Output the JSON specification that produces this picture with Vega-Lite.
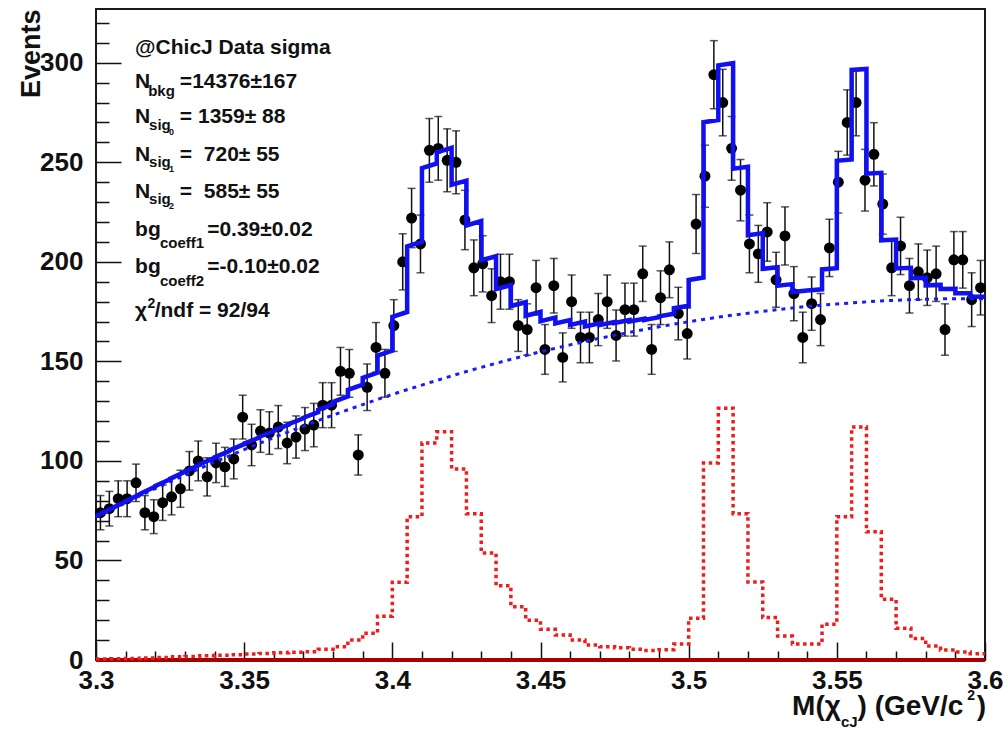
{
  "$schema": "https://vega.github.io/schema/vega-lite/v6.json",
  "width": 889,
  "height": 651,
  "autosize": {"type": "none"},
  "padding": {"left": 96, "top": 9, "right": 23, "bottom": 74},
  "background": "white",
  "config": {
    "view": {"stroke": "#1a1a1a", "strokeWidth": 2},
    "font": "Liberation Sans",
    "axis": {"grid": false, "domain": false, "tickColor": "#111", "labelColor": "#111", "labelFont": "Liberation Sans", "labelFontWeight": "bold", "labelFontSize": 26, "titleFont": "Liberation Sans", "titleColor": "#111"}
  },
  "resolve": {"axis": {"x": "independent", "y": "independent"}},
  "datasets": {
    "pts": [
      {"m":3.3015,"n":74,"e":8.6},{"m":3.3045,"n":76,"e":8.7},{"m":3.3075,"n":81,"e":9.0},{"m":3.3105,"n":81,"e":9.0},{"m":3.3135,"n":89,"e":9.4},
      {"m":3.3165,"n":74,"e":8.6},{"m":3.3195,"n":72,"e":8.5},{"m":3.3225,"n":79,"e":8.9},{"m":3.3255,"n":82,"e":9.1},{"m":3.3285,"n":86,"e":9.3},
      {"m":3.3315,"n":95,"e":9.7},{"m":3.3345,"n":100,"e":10.0},{"m":3.3375,"n":92,"e":9.6},{"m":3.3405,"n":99,"e":9.9},{"m":3.3435,"n":97,"e":9.8},
      {"m":3.3465,"n":101,"e":10.0},{"m":3.3495,"n":122,"e":11.0},{"m":3.3525,"n":108,"e":10.4},{"m":3.3555,"n":115,"e":10.7},{"m":3.3585,"n":114,"e":10.7},
      {"m":3.3615,"n":117,"e":10.8},{"m":3.3645,"n":109,"e":10.4},{"m":3.3675,"n":112,"e":10.6},{"m":3.3705,"n":116,"e":10.8},{"m":3.3735,"n":118,"e":10.9},
      {"m":3.3765,"n":128,"e":11.3},{"m":3.3795,"n":128,"e":11.3},{"m":3.3825,"n":145,"e":12.0},{"m":3.3855,"n":144,"e":12.0},{"m":3.3885,"n":103,"e":10.1},
      {"m":3.3915,"n":137,"e":11.7},{"m":3.3945,"n":157,"e":12.5},{"m":3.3975,"n":144,"e":12.0},{"m":3.4005,"n":168,"e":13.0},{"m":3.4035,"n":200,"e":14.1},
      {"m":3.4065,"n":222,"e":14.9},{"m":3.4095,"n":209,"e":14.5},{"m":3.4125,"n":256,"e":16.0},{"m":3.4155,"n":257,"e":16.0},{"m":3.4185,"n":251,"e":15.8},
      {"m":3.4215,"n":250,"e":15.8},{"m":3.4245,"n":221,"e":14.9},{"m":3.4275,"n":197,"e":14.0},{"m":3.4305,"n":199,"e":14.1},{"m":3.4335,"n":183,"e":13.5},
      {"m":3.4365,"n":190,"e":13.8},{"m":3.4395,"n":190,"e":13.8},{"m":3.4425,"n":168,"e":13.0},{"m":3.4455,"n":166,"e":12.9},{"m":3.4485,"n":187,"e":13.7},
      {"m":3.4515,"n":156,"e":12.5},{"m":3.4545,"n":188,"e":13.7},{"m":3.4575,"n":152,"e":12.3},{"m":3.4605,"n":180,"e":13.4},{"m":3.4635,"n":162,"e":12.7},
      {"m":3.4665,"n":162,"e":12.7},{"m":3.4695,"n":171,"e":13.1},{"m":3.4725,"n":180,"e":13.4},{"m":3.4755,"n":163,"e":12.8},{"m":3.4785,"n":176,"e":13.3},
      {"m":3.4815,"n":176,"e":13.3},{"m":3.4845,"n":194,"e":13.9},{"m":3.4875,"n":156,"e":12.5},{"m":3.4905,"n":182,"e":13.5},{"m":3.4935,"n":196,"e":14.0},
      {"m":3.4965,"n":174,"e":13.2},{"m":3.4995,"n":164,"e":12.8},{"m":3.5025,"n":219,"e":14.8},{"m":3.5055,"n":243,"e":15.6},{"m":3.5085,"n":294,"e":17.1},
      {"m":3.5115,"n":280,"e":16.7},{"m":3.5145,"n":257,"e":16.0},{"m":3.5175,"n":236,"e":15.4},{"m":3.5205,"n":209,"e":14.5},{"m":3.5235,"n":204,"e":14.3},
      {"m":3.5265,"n":215,"e":14.7},{"m":3.5295,"n":191,"e":13.8},{"m":3.5325,"n":213,"e":14.6},{"m":3.5355,"n":184,"e":13.6},{"m":3.5385,"n":162,"e":12.7},
      {"m":3.5415,"n":179,"e":13.4},{"m":3.5445,"n":171,"e":13.1},{"m":3.5475,"n":207,"e":14.4},{"m":3.5505,"n":240,"e":15.5},{"m":3.5535,"n":270,"e":16.4},
      {"m":3.5565,"n":280,"e":16.7},{"m":3.5595,"n":241,"e":15.5},{"m":3.5625,"n":254,"e":15.9},{"m":3.5655,"n":229,"e":15.1},{"m":3.5685,"n":197,"e":14.0},
      {"m":3.5715,"n":208,"e":14.4},{"m":3.5745,"n":188,"e":13.7},{"m":3.5775,"n":195,"e":14.0},{"m":3.5805,"n":192,"e":13.9},{"m":3.5835,"n":194,"e":13.9},
      {"m":3.5865,"n":166,"e":12.9},{"m":3.5895,"n":201,"e":14.2},{"m":3.5925,"n":201,"e":14.2},{"m":3.5955,"n":181,"e":13.5},{"m":3.5985,"n":187,"e":13.7}
    ],
    "curve": [
      {"o":0,"m":3.300,"s":0.5,"t":72.3},{"o":1,"m":3.305,"s":0.5,"t":75.9},
      {"o":2,"m":3.305,"s":0.6,"t":76.0},{"o":3,"m":3.310,"s":0.6,"t":79.6},
      {"o":4,"m":3.310,"s":0.8,"t":79.8},{"o":5,"m":3.315,"s":0.8,"t":83.4},
      {"o":6,"m":3.315,"s":1.0,"t":83.6},{"o":7,"m":3.320,"s":1.0,"t":87.1},
      {"o":8,"m":3.320,"s":1.3,"t":87.4},{"o":9,"m":3.325,"s":1.3,"t":90.8},
      {"o":10,"m":3.325,"s":1.6,"t":91.1},{"o":11,"m":3.330,"s":1.6,"t":94.5},
      {"o":12,"m":3.330,"s":1.8,"t":94.7},{"o":13,"m":3.335,"s":1.8,"t":98.0},
      {"o":14,"m":3.335,"s":2.1,"t":98.3},{"o":15,"m":3.340,"s":2.1,"t":101.5},
      {"o":16,"m":3.340,"s":2.4,"t":101.8},{"o":17,"m":3.345,"s":2.4,"t":105.0},
      {"o":18,"m":3.345,"s":2.7,"t":105.3},{"o":19,"m":3.350,"s":2.7,"t":108.4},
      {"o":20,"m":3.350,"s":3.0,"t":108.7},{"o":21,"m":3.355,"s":3.0,"t":111.7},
      {"o":22,"m":3.355,"s":3.3,"t":112.0},{"o":23,"m":3.360,"s":3.3,"t":115.0},
      {"o":24,"m":3.360,"s":3.6,"t":115.3},{"o":25,"m":3.365,"s":3.6,"t":118.2},
      {"o":26,"m":3.365,"s":3.9,"t":118.5},{"o":27,"m":3.370,"s":3.9,"t":121.4},
      {"o":28,"m":3.370,"s":4.2,"t":121.7},{"o":29,"m":3.375,"s":4.2,"t":124.5},
      {"o":30,"m":3.375,"s":5.4,"t":125.7},{"o":31,"m":3.380,"s":5.4,"t":128.4},
      {"o":32,"m":3.380,"s":6.7,"t":129.7},{"o":33,"m":3.385,"s":6.7,"t":132.4},
      {"o":34,"m":3.385,"s":10,"t":135.7},{"o":35,"m":3.390,"s":10,"t":138.3},
      {"o":36,"m":3.390,"s":13.4,"t":141.7},{"o":37,"m":3.395,"s":13.4,"t":144.3},
      {"o":38,"m":3.395,"s":22,"t":152.9},{"o":39,"m":3.400,"s":22,"t":155.4},
      {"o":40,"m":3.400,"s":39,"t":172.4},{"o":41,"m":3.405,"s":39,"t":174.8},
      {"o":42,"m":3.405,"s":72,"t":207.8},{"o":43,"m":3.410,"s":72,"t":210.1},
      {"o":44,"m":3.410,"s":109,"t":247.1},{"o":45,"m":3.415,"s":109,"t":249.4},
      {"o":46,"m":3.415,"s":114.6,"t":255.0},{"o":47,"m":3.420,"s":114.6,"t":257.3},
      {"o":48,"m":3.420,"s":96,"t":238.7},{"o":49,"m":3.425,"s":96,"t":240.8},
      {"o":50,"m":3.425,"s":73.5,"t":218.3},{"o":51,"m":3.430,"s":73.5,"t":220.5},
      {"o":52,"m":3.430,"s":53.8,"t":200.8},{"o":53,"m":3.435,"s":53.8,"t":202.8},
      {"o":54,"m":3.435,"s":37.3,"t":186.3},{"o":55,"m":3.440,"s":37.3,"t":188.3},
      {"o":56,"m":3.440,"s":26.8,"t":177.8},{"o":57,"m":3.445,"s":26.8,"t":179.7},
      {"o":58,"m":3.445,"s":20,"t":172.9},{"o":59,"m":3.450,"s":20,"t":174.8},
      {"o":60,"m":3.450,"s":15.4,"t":170.2},{"o":61,"m":3.455,"s":15.4,"t":172.0},
      {"o":62,"m":3.455,"s":12.5,"t":169.1},{"o":63,"m":3.460,"s":12.5,"t":170.8},
      {"o":64,"m":3.460,"s":10,"t":168.3},{"o":65,"m":3.465,"s":10,"t":170.0},
      {"o":66,"m":3.465,"s":7.5,"t":167.5},{"o":67,"m":3.470,"s":7.5,"t":169.1},
      {"o":68,"m":3.470,"s":6.7,"t":168.3},{"o":69,"m":3.475,"s":6.7,"t":169.8},
      {"o":70,"m":3.475,"s":6.2,"t":169.3},{"o":71,"m":3.480,"s":6.2,"t":170.8},
      {"o":72,"m":3.480,"s":5.4,"t":170.0},{"o":73,"m":3.485,"s":5.4,"t":171.4},
      {"o":74,"m":3.485,"s":4.8,"t":170.8},{"o":75,"m":3.490,"s":4.8,"t":172.2},
      {"o":76,"m":3.490,"s":5.2,"t":172.6},{"o":77,"m":3.495,"s":5.2,"t":173.9},
      {"o":78,"m":3.495,"s":8,"t":176.7},{"o":79,"m":3.500,"s":8,"t":177.9},
      {"o":80,"m":3.500,"s":21,"t":190.9},{"o":81,"m":3.505,"s":21,"t":192.1},
      {"o":82,"m":3.505,"s":99,"t":270.1},{"o":83,"m":3.510,"s":99,"t":271.2},
      {"o":84,"m":3.510,"s":126.5,"t":298.7},{"o":85,"m":3.515,"s":126.5,"t":299.8},
      {"o":86,"m":3.515,"s":73.5,"t":246.8},{"o":87,"m":3.520,"s":73.5,"t":247.7},
      {"o":88,"m":3.520,"s":39.2,"t":213.4},{"o":89,"m":3.525,"s":39.2,"t":214.4},
      {"o":90,"m":3.525,"s":21.3,"t":196.5},{"o":91,"m":3.530,"s":21.3,"t":197.3},
      {"o":92,"m":3.530,"s":12,"t":188.0},{"o":93,"m":3.535,"s":12,"t":188.8},
      {"o":94,"m":3.535,"s":8,"t":184.8},{"o":95,"m":3.540,"s":8,"t":185.6},
      {"o":96,"m":3.540,"s":8,"t":185.6},{"o":97,"m":3.545,"s":8,"t":186.2},
      {"o":98,"m":3.545,"s":18,"t":196.2},{"o":99,"m":3.550,"s":18,"t":196.8},
      {"o":100,"m":3.550,"s":72,"t":250.8},{"o":101,"m":3.555,"s":72,"t":251.4},
      {"o":102,"m":3.555,"s":117,"t":296.4},{"o":103,"m":3.560,"s":117,"t":296.9},
      {"o":104,"m":3.560,"s":64.4,"t":244.3},{"o":105,"m":3.565,"s":64.4,"t":244.7},
      {"o":106,"m":3.565,"s":30.5,"t":210.8},{"o":107,"m":3.570,"s":30.5,"t":211.2},
      {"o":108,"m":3.570,"s":16,"t":196.7},{"o":109,"m":3.575,"s":16,"t":197.0},
      {"o":110,"m":3.575,"s":10.8,"t":191.8},{"o":111,"m":3.580,"s":10.8,"t":192.0},
      {"o":112,"m":3.580,"s":7,"t":188.2},{"o":113,"m":3.585,"s":7,"t":188.4},
      {"o":114,"m":3.585,"s":5,"t":186.4},{"o":115,"m":3.590,"s":5,"t":186.5},
      {"o":116,"m":3.590,"s":4,"t":184.2},{"o":117,"m":3.595,"s":4,"t":184.2},
      {"o":118,"m":3.595,"s":3.2,"t":182.6},{"o":119,"m":3.600,"s":3.2,"t":182.5}
    ],
    "bg": [
      {"m":3.30,"b":71.8},{"m":3.31,"b":79.0},{"m":3.32,"b":86.1},{"m":3.33,"b":92.9},{"m":3.34,"b":99.4},
      {"m":3.35,"b":105.7},{"m":3.36,"b":111.7},{"m":3.37,"b":117.5},{"m":3.38,"b":123.0},{"m":3.39,"b":128.3},
      {"m":3.40,"b":133.4},{"m":3.41,"b":138.1},{"m":3.42,"b":142.7},{"m":3.43,"b":147.0},{"m":3.44,"b":151.0},
      {"m":3.45,"b":154.8},{"m":3.46,"b":158.3},{"m":3.47,"b":161.6},{"m":3.48,"b":164.6},{"m":3.49,"b":167.4},
      {"m":3.50,"b":169.9},{"m":3.51,"b":172.2},{"m":3.52,"b":174.2},{"m":3.53,"b":176.0},{"m":3.54,"b":177.6},
      {"m":3.55,"b":178.8},{"m":3.56,"b":179.9},{"m":3.57,"b":180.7},{"m":3.58,"b":181.2},{"m":3.59,"b":181.5},
      {"m":3.60,"b":181.5}
    ],
    "t1": [
      {"x":3.3132,"y":304.6,"t":"@ChicJ Data sigma"},
      {"x":3.3132,"y":287.5,"t":"N"},
      {"x":3.3283,"y":287.5,"t":"=14376±167"},
      {"x":3.3132,"y":269.9,"t":"N"},
      {"x":3.3283,"y":269.9,"t":"=\u00a01359±\u00a088"},
      {"x":3.3132,"y":250.9,"t":"N"},
      {"x":3.3283,"y":250.9,"t":"=\u00a0\u00a0720±\u00a055"},
      {"x":3.3132,"y":232.3,"t":"N"},
      {"x":3.3283,"y":232.3,"t":"=\u00a0\u00a0585±\u00a055"},
      {"x":3.3132,"y":213.2,"t":"bg"},
      {"x":3.3375,"y":213.2,"t":"=0.39±0.02"},
      {"x":3.3132,"y":194.2,"t":"bg"},
      {"x":3.3375,"y":194.2,"t":"=-0.10±0.02"},
      {"x":3.3132,"y":172.1,"t":"χ"},
      {"x":3.3198,"y":172.1,"t":"/ndf = 92/94"}
    ],
    "sub": [
      {"x":3.3176,"y":283.5,"t":"bkg"},
      {"x":3.3179,"y":266.4,"t":"sig"},
      {"x":3.3179,"y":247.4,"t":"sig"},
      {"x":3.3179,"y":228.8,"t":"sig"},
      {"x":3.3216,"y":206.7,"t":"coeff1"},
      {"x":3.3216,"y":187.7,"t":"coeff2"},
      {"x":3.5514,"y":-33.6,"t":"cJ"}
    ],
    "subsub": [
      {"x":3.3246,"y":263.9,"t":"0"},
      {"x":3.3246,"y":244.9,"t":"1"},
      {"x":3.3246,"y":226.3,"t":"2"}
    ],
    "sup": [
      {"x":3.3174,"y":176.6,"t":"2"},
      {"x":3.5940,"y":-20.1,"t":"2"}
    ],
    "xt": [
      {"x":3.5349,"y":-27.6,"t":"M(χ"},
      {"x":3.5570,"y":-27.6,"t":") (GeV/c"},
      {"x":3.5972,"y":-27.6,"t":")"}
    ]
  },
  "layer": [
    {
      "data": {"name": "bg"},
      "mark": {"type": "rule", "color": "#a80000", "strokeWidth": 3},
      "encoding": {
        "y": {"datum": 0, "type": "quantitative", "scale": {"domain": [0, 327], "nice": false, "zero": false}, "axis": null}
      }
    },
    {
      "data": {"name": "pts"},
      "mark": {"type": "errorbar", "ticks": true, "color": "#111", "thickness": 1.5, "size": 8},
      "encoding": {
        "x": {"field": "m", "type": "quantitative", "scale": {"domain": [3.3, 3.6], "nice": false, "zero": false}, "axis": null},
        "y": {"field": "n", "type": "quantitative", "scale": {"domain": [0, 327], "nice": false, "zero": false}, "axis": null},
        "yError": {"field": "e"}
      }
    },
    {
      "data": {"name": "pts"},
      "mark": {"type": "circle", "size": 120, "color": "#000", "opacity": 1},
      "encoding": {
        "x": {"field": "m", "type": "quantitative", "scale": {"domain": [3.3, 3.6], "nice": false, "zero": false}, "axis": null},
        "y": {"field": "n", "type": "quantitative", "scale": {"domain": [0, 327], "nice": false, "zero": false}, "axis": null}
      }
    },
    {
      "data": {"name": "curve"},
      "mark": {"type": "line", "color": "#ee1c1c", "strokeWidth": 3.5, "strokeDash": [3.5, 3.5]},
      "encoding": {
        "x": {"field": "m", "type": "quantitative", "scale": {"domain": [3.3, 3.6], "nice": false, "zero": false},
              "axis": {"orient": "bottom", "values": [3.31,3.32,3.33,3.34,3.36,3.37,3.38,3.39,3.41,3.42,3.43,3.44,3.46,3.47,3.48,3.49,3.51,3.52,3.53,3.54,3.56,3.57,3.58,3.59], "tickSize": -9, "tickWidth": 1.5, "labels": false, "title": null}},
        "y": {"field": "s", "type": "quantitative", "scale": {"domain": [0, 327], "nice": false, "zero": false},
              "axis": {"orient": "left", "values": [10,20,30,40,60,70,80,90,110,120,130,140,160,170,180,190,210,220,230,240,260,270,280,290,310,320], "tickSize": -13, "tickWidth": 1.5, "labels": false, "title": null}},
        "order": {"field": "o", "type": "quantitative"}
      }
    },
    {
      "data": {"name": "bg"},
      "mark": {"type": "line", "color": "#1a1aff", "strokeWidth": 3, "strokeDash": [4, 5], "interpolate": "monotone"},
      "encoding": {
        "x": {"field": "m", "type": "quantitative", "scale": {"domain": [3.3, 3.6], "nice": false, "zero": false},
              "axis": {"orient": "bottom", "values": [3.3,3.35,3.4,3.45,3.5,3.55,3.6], "format": ".2~f", "tickSize": -18, "tickWidth": 1.5, "labelPadding": 25, "labelFlush": false, "labelOverlap": false, "title": null}},
        "y": {"field": "b", "type": "quantitative", "scale": {"domain": [0, 327], "nice": false, "zero": false},
              "axis": {"orient": "left", "values": [0,50,100,150,200,250,300], "tickSize": -25, "tickWidth": 1.5, "labelPadding": 38, "labelOverlap": false, "labelFlush": false,
                       "title": "Events", "titleFontSize": 27, "titleFontWeight": "bold", "titleAngle": 270, "titleAlign": "right", "titleBaseline": "alphabetic", "titleX": -57, "titleY": 0}}
      }
    },
    {
      "data": {"name": "curve"},
      "mark": {"type": "line", "color": "#1010f0", "strokeWidth": 4.5},
      "encoding": {
        "x": {"field": "m", "type": "quantitative", "scale": {"domain": [3.3, 3.6], "nice": false, "zero": false}, "axis": null},
        "y": {"field": "t", "type": "quantitative", "scale": {"domain": [0, 327], "nice": false, "zero": false}, "axis": null},
        "order": {"field": "o", "type": "quantitative"}
      }
    },
    {
      "data": {"name": "t1"},
      "mark": {"type": "text", "align": "left", "baseline": "alphabetic", "fontSize": 21, "fontWeight": "bold", "font": "Liberation Sans", "color": "#111"},
      "encoding": {
        "x": {"field": "x", "type": "quantitative", "scale": {"domain": [3.3, 3.6], "nice": false, "zero": false}, "axis": null},
        "y": {"field": "y", "type": "quantitative", "scale": {"domain": [0, 327], "nice": false, "zero": false}, "axis": null},
        "text": {"field": "t"}
      }
    },
    {
      "data": {"name": "sub"},
      "mark": {"type": "text", "align": "left", "baseline": "alphabetic", "fontSize": 15, "fontWeight": "bold", "font": "Liberation Sans", "color": "#111"},
      "encoding": {
        "x": {"field": "x", "type": "quantitative", "scale": {"domain": [3.3, 3.6], "nice": false, "zero": false}, "axis": null},
        "y": {"field": "y", "type": "quantitative", "scale": {"domain": [0, 327], "nice": false, "zero": false}, "axis": null},
        "text": {"field": "t"}
      }
    },
    {
      "data": {"name": "subsub"},
      "mark": {"type": "text", "align": "left", "baseline": "alphabetic", "fontSize": 9, "fontWeight": "bold", "font": "Liberation Sans", "color": "#111"},
      "encoding": {
        "x": {"field": "x", "type": "quantitative", "scale": {"domain": [3.3, 3.6], "nice": false, "zero": false}, "axis": null},
        "y": {"field": "y", "type": "quantitative", "scale": {"domain": [0, 327], "nice": false, "zero": false}, "axis": null},
        "text": {"field": "t"}
      }
    },
    {
      "data": {"name": "sup"},
      "mark": {"type": "text", "align": "left", "baseline": "alphabetic", "fontSize": 14, "fontWeight": "bold", "font": "Liberation Sans", "color": "#111"},
      "encoding": {
        "x": {"field": "x", "type": "quantitative", "scale": {"domain": [3.3, 3.6], "nice": false, "zero": false}, "axis": null},
        "y": {"field": "y", "type": "quantitative", "scale": {"domain": [0, 327], "nice": false, "zero": false}, "axis": null},
        "text": {"field": "t"}
      }
    },
    {
      "data": {"name": "xt"},
      "mark": {"type": "text", "align": "left", "baseline": "alphabetic", "fontSize": 28, "fontWeight": "bold", "font": "Liberation Sans", "color": "#111"},
      "encoding": {
        "x": {"field": "x", "type": "quantitative", "scale": {"domain": [3.3, 3.6], "nice": false, "zero": false}, "axis": null},
        "y": {"field": "y", "type": "quantitative", "scale": {"domain": [0, 327], "nice": false, "zero": false}, "axis": null},
        "text": {"field": "t"}
      }
    }
  ]
}
